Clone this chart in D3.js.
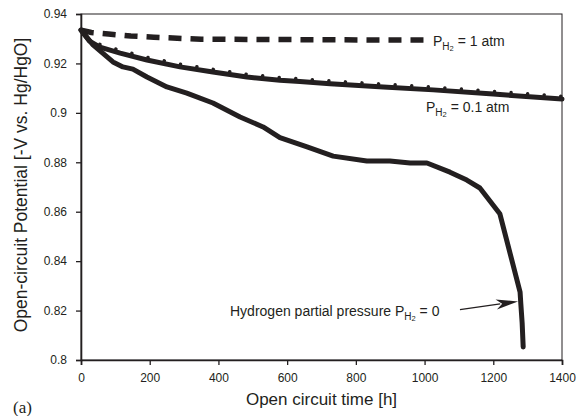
<!DOCTYPE html>
<html><head><meta charset="utf-8">
<script src="https://cdn.jsdelivr.net/npm/d3@7"></script>
<style>body{margin:0;background:#fff}svg{display:block}text{font-family:"Liberation Sans",Arial,sans-serif;fill:#231f20}</style>
</head><body>
<script>
// ---- data ----
const xTicks = [0, 200, 400, 600, 800, 1000, 1200, 1400];
const yTicks = [0.8, 0.82, 0.84, 0.86, 0.88, 0.9, 0.92, 0.94];
const yTickLabels = ["0.8", "0.82", "0.84", "0.86", "0.88", "0.9", "0.92", "0.94"];

// P_H2 = 1 atm (dashed)
const time1 = [0, 30, 80, 145, 212, 280, 350, 500, 700, 850, 1005];
const pot1 = [0.9335, 0.9325, 0.9319, 0.9311, 0.9306, 0.9302, 0.9298, 0.9297, 0.9296, 0.9295, 0.9295];

// P_H2 = 0.1 atm
const time01 = [0, 25, 55, 114, 192, 288, 384, 483, 579, 637, 725, 880, 1025, 1200, 1400];
const pot01 = [0.9335, 0.929, 0.9266, 0.9242, 0.9214, 0.9186, 0.9165, 0.9145, 0.9132, 0.9127, 0.9118, 0.9105, 0.9093, 0.9076, 0.9056];

// P_H2 = 0
const time0 = [0, 35, 93, 122, 151, 192, 250, 308, 384, 463, 530, 579, 658, 734, 832, 899, 958, 1007, 1074, 1123, 1161, 1219, 1278, 1280, 1284, 1287];
const pot0 = [0.9335, 0.9275, 0.9206, 0.9186, 0.9177, 0.9145, 0.9105, 0.908, 0.904, 0.8983, 0.8943, 0.890, 0.8862, 0.8825, 0.8805, 0.8805, 0.8797, 0.8797, 0.876, 0.8728, 0.8696, 0.8592, 0.8275, 0.823, 0.815, 0.8053];

// annotation anchors (data coords)
const arrowFrom = [1103, 0.8204];
const arrowTo = [1272, 0.8237];

// ---- chart ----
const W = 578, H = 416;
const m = {left: 81, right: 16, top: 14, bottom: 56};
const svg = d3.select("body").append("svg").attr("width", W).attr("height", H);

const x = d3.scaleLinear().domain([0, 1400]).range([m.left, W - m.right]);
const y = d3.scaleLinear().domain([0.8, 0.94]).range([H - m.bottom, m.top]);

// frame (top/right)
svg.append("rect").attr("x", x(0)).attr("y", y(0.94))
  .attr("width", x(1400) - x(0)).attr("height", y(0.8) - y(0.94))
  .attr("fill", "none").attr("stroke", "#231f20").attr("stroke-width", 1);

const xAxis = svg.append("g").attr("transform", `translate(0,${y(0.8)})`)
  .call(d3.axisBottom(x).tickValues(xTicks).tickSize(5).tickPadding(8).tickFormat(d3.format("d")));
const yAxis = svg.append("g").attr("transform", `translate(${x(0)},0)`)
  .call(d3.axisLeft(y).tickValues(yTicks).tickSize(5).tickPadding(9).tickFormat((d, i) => yTickLabels[i]));
[xAxis, yAxis].forEach(g => {
  g.select(".domain").attr("stroke", "#231f20").attr("stroke-width", 1.6);
  g.selectAll(".tick line").attr("stroke", "#231f20").attr("stroke-width", 1.3);
  g.selectAll(".tick text").attr("font-size", 12).attr("fill", "#231f20")
    .style("font-family", "'Liberation Sans', Arial, sans-serif");
});

const line = d3.line().x(d => x(d[0])).y(d => y(d[1]));
const zip = (a, b) => a.map((t, i) => [t, b[i]]);

// 1 atm dashed
svg.append("path").datum(zip(time1, pot1)).attr("d", line)
  .attr("fill", "none").attr("stroke", "#231f20").attr("stroke-width", 5.5)
  .attr("stroke-dasharray", "13,9");
// 0.1 atm
svg.append("path").datum(zip(time01, pot01)).attr("d", line)
  .attr("fill", "none").attr("stroke", "#231f20").attr("stroke-width", 5)
  .attr("stroke-linejoin", "round").attr("stroke-linecap", "round");
// dotted markers above the 0.1 atm line
svg.append("path").datum(zip(time01, pot01).filter(d => d[0] >= 55)).attr("d", line)
  .attr("transform", "translate(0,-2.8)")
  .attr("fill", "none").attr("stroke", "#231f20").attr("stroke-width", 3.4)
  .attr("stroke-linecap", "round").attr("stroke-dasharray", "0.1,16.5");
// 0
svg.append("path").datum(zip(time0, pot0)).attr("d", line)
  .attr("fill", "none").attr("stroke", "#231f20").attr("stroke-width", 5)
  .attr("stroke-linejoin", "round").attr("stroke-linecap", "round");

// labels with subscripts
function pLabel(px, py, tail) {
  const t = svg.append("text").attr("x", px).attr("y", py).attr("font-size", 14);
  t.append("tspan").text("P");
  t.append("tspan").attr("dy", 3.5).attr("font-size", 10).text("H");
  t.append("tspan").attr("dy", 1.5).attr("font-size", 7.5).text("2");
  t.append("tspan").attr("dy", -5).attr("font-size", 14).text(tail);
  return t;
}
pLabel(433, 46, " = 1 atm");
pLabel(426, 112, " = 0.1 atm");
{
  const t = svg.append("text").attr("x", 230).attr("y", 316).attr("font-size", 14);
  t.append("tspan").text("Hydrogen partial pressure P");
  t.append("tspan").attr("dy", 3.5).attr("font-size", 10).text("H");
  t.append("tspan").attr("dy", 1.5).attr("font-size", 7.5).text("2");
  t.append("tspan").attr("dy", -5).attr("font-size", 14).text(" = 0");
}
// arrow
const ax1 = x(arrowFrom[0]), ay1 = y(arrowFrom[1]), ax2 = x(arrowTo[0]), ay2 = y(arrowTo[1]);
const ang = Math.atan2(ay2 - ay1, ax2 - ax1);
const hl = 22, hw = 5;
const bx = ax2 - hl * Math.cos(ang), by = ay2 - hl * Math.sin(ang);
svg.append("line").attr("x1", ax1).attr("y1", ay1).attr("x2", bx + 4 * Math.cos(ang)).attr("y2", by + 4 * Math.sin(ang))
  .attr("stroke", "#231f20").attr("stroke-width", 1.4);
svg.append("path").attr("d", `M${ax2},${ay2} L${bx - hw * Math.sin(ang)},${by + hw * Math.cos(ang)} L${bx + 6 * Math.cos(ang)},${by + 6 * Math.sin(ang)} L${bx + hw * Math.sin(ang)},${by - hw * Math.cos(ang)} Z`)
  .attr("fill", "#231f20");

// axis titles
svg.append("text").attr("x", (x(0) + x(1400)) / 2).attr("y", 405).attr("text-anchor", "middle")
  .attr("font-size", 17).text("Open circuit time [h]");
svg.append("text").attr("transform", `translate(27,${(y(0.8) + y(0.94)) / 2 - 2}) rotate(-90)`)
  .attr("text-anchor", "middle").attr("font-size", 17.5).text("Open-circuit Potential [-V vs. Hg/HgO]");
svg.append("text").attr("x", 13).attr("y", 413).attr("font-size", 17)
  .style("font-family", "'Liberation Serif', 'Times New Roman', serif").text("(a)");
</script>
</body></html>
